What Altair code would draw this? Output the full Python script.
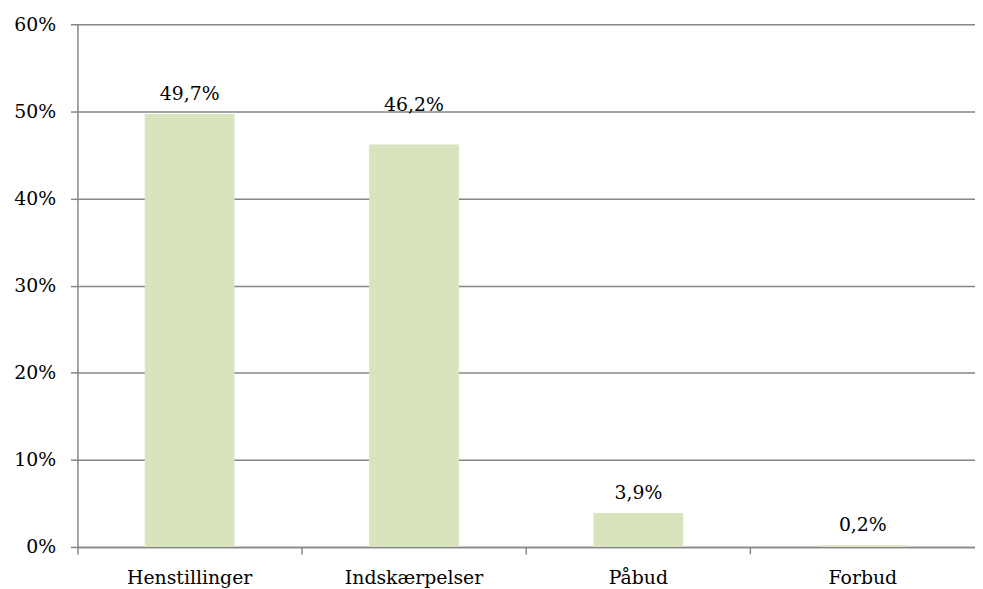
import altair as alt
import pandas as pd

categories = ["Henstillinger", "Indskærpelser", "Påbud", "Forbud"]
values = [49.7, 46.2, 3.9, 0.2]

df = pd.DataFrame({"kategori": categories, "andel": values})

FONT = "DejaVu Serif"
GRID = "#868686"
FS = 19

x_enc = alt.X(
    "kategori:N",
    sort=categories,
    title=None,
    scale=alt.Scale(paddingInner=0, paddingOuter=0),
    axis=alt.Axis(
        bandPosition=0,
        labelOffset=0,
        labelAngle=0,
        labelAlign="center",
        grid=False,
        domain=True,
        domainColor=GRID,
        domainWidth=1.5,
        tickColor=GRID,
        tickWidth=1.5,
        tickSize=7,
        labelPadding=15,
        labelFont=FONT,
        labelFontSize=FS,
        labelColor="black",
    ),
)

y_enc = alt.Y(
    "andel:Q",
    title=None,
    scale=alt.Scale(domain=[0, 60], nice=False),
    axis=alt.Axis(
        values=[0, 10, 20, 30, 40, 50, 60],
        labelExpr="datum.value + '%'",
        grid=True,
        gridColor=GRID,
        gridWidth=1.5,
        gridOpacity=1,
        domain=True,
        domainColor=GRID,
        domainWidth=1.5,
        tickColor=GRID,
        tickWidth=1.5,
        tickSize=7,
        labelPadding=15,
        labelFont=FONT,
        labelFontSize=FS,
        labelColor="black",
    ),
)

base = alt.Chart(df).encode(x=x_enc, y=y_enc)

bars = base.mark_bar(color="#d7e4bd", width={"band": 0.4})

label_expr = "replace(format(datum.andel, '.1f'), '.', ',') + '%'"

labels = base.transform_filter(
    alt.datum.kategori != "Indskærpelser"
).transform_calculate(lbl=label_expr).mark_text(
    baseline="alphabetic", dy=-14, font=FONT, fontSize=FS, color="black"
).encode(text="lbl:N")

labels_shifted = base.transform_filter(
    alt.datum.kategori == "Indskærpelser"
).transform_calculate(lbl=label_expr).mark_text(
    baseline="alphabetic", dy=-34, font=FONT, fontSize=FS, color="black"
).encode(text="lbl:N")

chart = alt.layer(bars, labels, labels_shifted).properties(
    width=905,
    height=527,
    autosize=alt.AutoSizeParams(type="none"),
    padding={"left": 70, "top": 14, "right": 0, "bottom": 40},
).configure_view(stroke=None)

chart.save("out.html", embed_options={"renderer": "svg", "actions": False})
